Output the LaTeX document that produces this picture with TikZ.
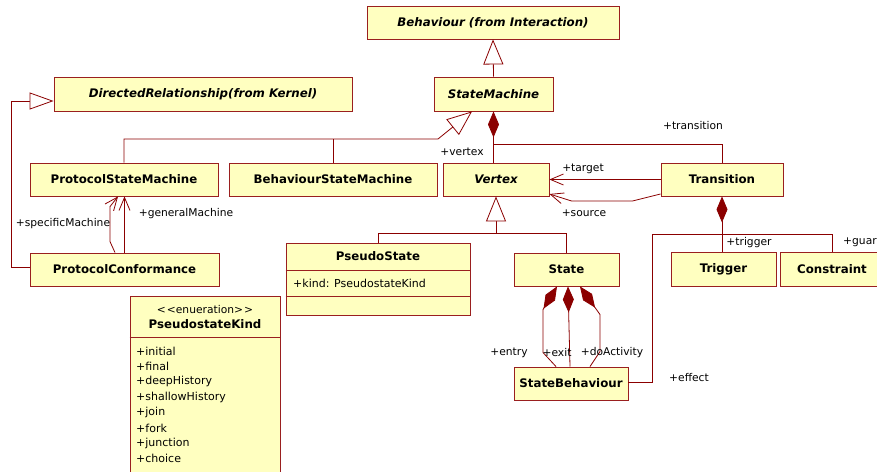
\documentclass[tikz,border=0pt]{standalone}
\usepackage{fontspec}
\setmainfont{DejaVu Sans}
\usetikzlibrary{arrows.meta}
\definecolor{boxfill}{HTML}{FFFFC0}
\definecolor{dred}{HTML}{8B0000}
\definecolor{edge}{HTML}{9A1F1F}
\begin{document}
\begin{tikzpicture}[x=1pt,y=-1pt,
  cls/.style={draw=edge, fill=boxfill, line width=0.9pt, minimum height=33pt,
    inner sep=0pt, font=\bfseries\fontsize{11.8}{13}\selectfont},
  abs/.style={cls, font=\bfseries\itshape\fontsize{11.8}{13}\selectfont},
  wire/.style={draw=dred, line width=0.8pt},
  gen/.style={wire, -{Triangle[open, length=25pt, width=20pt, fill=white]}},
  nav/.style={wire, -{Straight Barb[length=13pt, width=11pt]}},
  comp/.style={wire, -{Diamond[length=26pt, width=11pt, fill=dred]}},
  role/.style={font=\fontsize{10.7}{12}\selectfont, inner sep=0pt},
  item/.style={font=\fontsize{11}{12}\selectfont, inner sep=0pt, anchor=west}]
\useasboundingbox (0,0) rectangle (877,471);
\clip (0,0) rectangle (877,471);
\fill[white] (0,0) rectangle (877,471);

% classes
\node[abs, minimum width=252pt] (beh) at (493,22.5) {Behaviour (from Interaction)};
\node[abs, minimum width=119pt, minimum height=34pt] (sm) at (493.5,94) {StateMachine};
\node[abs, minimum width=298pt, minimum height=34pt] (dr) at (203,94) {DirectedRelationship(from Kernel)};
\node[cls, minimum width=188pt] (psm) at (124,179.5) {ProtocolStateMachine};
\node[cls, minimum width=208pt] (bsm) at (333,179.5) {BehaviourStateMachine};
\node[abs, minimum width=106pt] (vtx) at (496,179.5) {Vertex};
\node[cls, minimum width=122pt] (tr) at (722,179.5) {Transition};
\node[cls, minimum width=189pt] (pc) at (124.5,269.5) {ProtocolConformance};
\node[cls, minimum width=105pt] (st) at (566.5,269.5) {State};
\node[cls, minimum width=105pt, minimum height=34pt] (trg) at (723.5,269) {Trigger};
\node[cls, minimum width=104pt, minimum height=34pt] (con) at (832,269) {Constraint};
\node[cls, minimum width=114pt] (sb) at (571,383.5) {StateBehaviour};

% PseudoState with attribute and operation compartments
\node[cls, minimum width=184pt, minimum height=72pt] (ps) at (378,279) {};
\node[font=\bfseries\fontsize{11.8}{13}\selectfont, inner sep=0pt] (psname) at (378,256.5) {PseudoState};
\draw[draw=edge, line width=0.9pt] (ps.west |- 0,270) -- (ps.east |- 0,270);
\draw[draw=edge, line width=0.9pt] (ps.west |- 0,296) -- (ps.east |- 0,296);
\node[item] (psattr) at (293,283) {+kind: PseudostateKind};

% PseudostateKind enumeration
\node[cls, minimum width=150pt, minimum height=184pt] (psk) at (205,388) {};
\node[role] (pskster) at (205,310) {<\kern1pt<enueration>\kern1pt>};
\node[font=\bfseries\fontsize{11.8}{13}\selectfont, inner sep=0pt] (pskname) at (205,324.5) {PseudostateKind};
\draw[draw=edge, line width=0.9pt] (psk.west |- 0,337) -- (psk.east |- 0,337);
\foreach \t [count=\i from 0] in {initial,final,deepHistory,shallowHistory,join,fork,junction,choice}
  \node[item] (lit\i) at (136,{351+15.4*\i}) {+\t};

% generalizations
\draw[gen] (sm.north) -- (beh.south);
\coordinate (smj) at (438,139);
\draw[gen] (psm.north) |- (smj) -- ([xshift=-21.5pt]sm.south);
\draw[wire] (bsm.north) -- (bsm.north |- smj);
\draw[gen] (ps.north) |- ([yshift=-37pt]vtx.south) -- (vtx.south);
\draw[wire] (st.north) |- ([yshift=-37pt]vtx.south);
\draw[wire, -{Triangle[open, length=24pt, width=17pt, fill=white]}]
  ([yshift=2.5pt]pc.west) -- ++(-18,0) |- ([yshift=-7pt]dr.west);

% compositions
\draw[comp] (sm.south |- vtx.north) -- (sm.south);
\draw[wire] ([yshift=-33pt]sm.south) -| (tr.north);
\draw[comp] (tr.south |- trg.north) -- (tr.south);
\coordinate (effj) at (652,234);
\draw[wire] (con.north) |- (effj) |- ([yshift=1.5pt]sb.east);
\draw[comp] ([xshift=-15pt]sb.north) -- ++(-13,-14) -- ++(0,-43) -- ([xshift=-9.5pt]st.south);
\draw[comp] ([xshift=-1pt]sb.north) -- ([xshift=1.5pt]st.south);
\draw[comp] ([xshift=19pt]sb.north) -- ++(10,-15) -- ++(0,-37) -- ([xshift=13.5pt]st.south);

% navigable associations
\draw[nav] (tr.west) -- (vtx.east);
\draw[nav] ([yshift=-14.5pt]tr.west) -- ++(-28,7) -- ++(-61,0) -- ([yshift=-14.5pt]vtx.east);
\draw[nav] (pc.north) -- (pc.north |- psm.south);
\draw[nav] ([xshift=-9.5pt]pc.north) -- ++(-5,-11) -- ++(0,-35) -- ([xshift=-6pt]psm.south);

% role names
\node[role] (lvertex) at (462,152) {+vertex};
\node[role] (ltrans) at (693,126) {+transition};
\node[role] (ltarget) at (583,169) {+target};
\node[role] (lsource) at (584,213) {+source};
\node[role] (lspec) at (63,224) {+specificMachine};
\node[role] (lgen) at (186,214) {+generalMachine};
\node[role] (ltrig) at (749,243) {+trigger};
\node[role, anchor=west] (lguard) at (843,242) {+guard};
\node[role] (leffect) at (689,378) {+effect};
\node[role] (lentry) at (509,353) {+entry};
\node[role] (lexit) at (557,353) {+exit};
\node[role] (ldo) at (612,353) {+doActivity};
\end{tikzpicture}
\end{document}
